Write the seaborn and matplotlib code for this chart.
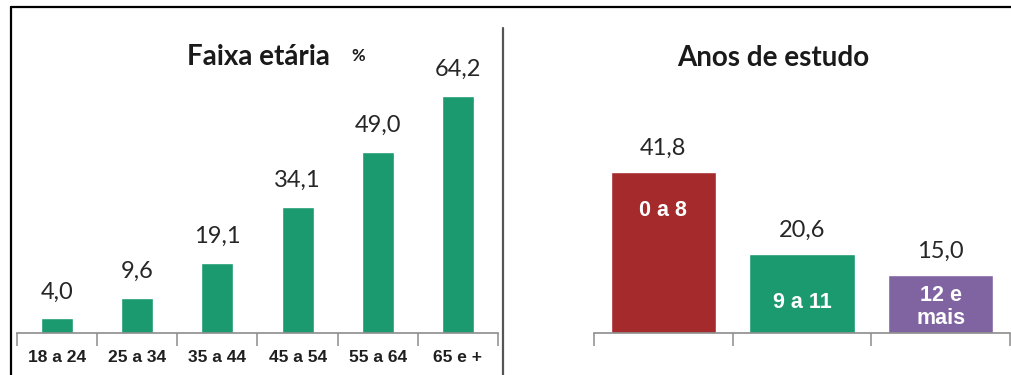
import matplotlib
matplotlib.use("Agg")
import matplotlib.pyplot as plt
import seaborn as sns
import pandas as pd
from matplotlib.lines import Line2D

# ---- data ----
idade_cats = ["18 a 24", "25 a 34", "35 a 44", "45 a 54", "55 a 64", "65 e +"]
idade_vals = [4.0, 9.6, 19.1, 34.1, 49.0, 64.2]
estudo_cats = ["0 a 8", "9 a 11", "12 e\nmais"]
estudo_vals = [41.8, 20.6, 15.0]
estudo_colors = ["#a42a2c", "#1a9a6e", "#8064a2"]
green = "#1a9a6e"

sns.set_theme(style="white")
plt.rcParams["font.family"] = ["Lato", "DejaVu Sans"]

W, H = 1011, 375
fig = plt.figure(figsize=(W / 100, H / 100), dpi=100)

def px_axes(x0, x1, ybot, ytop):
    return fig.add_axes([x0 / W, 1 - ybot / H, (x1 - x0) / W, (ybot - ytop) / H])

def fmt(v):
    return f"{v:.1f}".replace(".", ",")

def style_axis(ax, n):
    for s in ["top", "right", "left"]:
        ax.spines[s].set_visible(False)
    ax.spines["bottom"].set_color("#8c8c8c")
    ax.spines["bottom"].set_linewidth(1.2)
    ax.set_yticks([])
    ax.set_xlim(-0.5, n - 0.5)
    ax.set_xticks([i - 0.5 for i in range(n + 1)], minor=True)
    ax.tick_params(axis="x", which="minor", length=9, width=1.1, color="#8c8c8c",
                   direction="out", bottom=True)
    ax.tick_params(axis="x", which="major", length=0)
    ax.set_xlabel("")
    ax.set_ylabel("")

# ---- left panel ----
ax1 = px_axes(17, 498, 333, 30)
df1 = pd.DataFrame({"cat": idade_cats, "val": idade_vals})
sns.barplot(data=df1, x="cat", y="val", color=green, width=0.4, saturation=1, ax=ax1)
ax1.set_ylim(0, 303 / 3.69)
style_axis(ax1, len(idade_cats))
ax1.set_xticks(range(len(idade_cats)))
ax1.set_xticklabels(idade_cats, fontsize=12.5, fontweight="bold",
                    family=["Liberation Sans"], color="#1f1f1f")
ax1.tick_params(axis="x", which="major", pad=12)
for p, v in zip(ax1.patches, idade_vals):
    ax1.annotate(fmt(v), (p.get_x() + p.get_width() / 2, p.get_height()),
                 xytext=(0, 19), textcoords="offset points", ha="center", va="center",
                 fontsize=17, color="#262626")

# ---- right panel ----
ax2 = px_axes(594, 1010, 333, 30)
df2 = pd.DataFrame({"cat": estudo_cats, "val": estudo_vals})
sns.barplot(data=df2, x="cat", y="val", hue="cat", palette=estudo_colors, width=0.76,
            saturation=1, legend=False, ax=ax2)
ax2.set_ylim(0, 303 / 3.85)
style_axis(ax2, len(estudo_cats))
ax2.set_xticks(range(len(estudo_cats)))
ax2.set_xticklabels([""] * len(estudo_cats))
inner_y = [211, 303, 307]
for i, (p, v, lab) in enumerate(zip(ax2.patches, estudo_vals, estudo_cats)):
    cx = p.get_x() + p.get_width() / 2
    ax2.annotate(fmt(v), (cx, p.get_height()), xytext=(0, 17), textcoords="offset points",
                 ha="center", va="center", fontsize=17, color="#262626")
    ax2.text(cx, (333 - inner_y[i]) / 3.85, lab, ha="center", va="center", fontsize=15.5,
             fontweight="bold", color="white", family=["Liberation Sans"], linespacing=1.1)

# ---- titles ----
fig.text(258 / W, 1 - 57 / H, "Faixa etária", ha="center", va="center", fontsize=20,
         fontweight="bold", color="#1a1a1a")
fig.text(358 / W, 1 - 56 / H, "%", ha="center", va="center", fontsize=12,
         fontweight="bold", color="#1a1a1a")
fig.text(773 / W, 1 - 58 / H, "Anos de estudo", ha="center", va="center", fontsize=20,
         fontweight="bold", color="#1a1a1a")

# ---- frame lines ----
fig.add_artist(Line2D([11 / W, 1], [1 - 7 / H, 1 - 7 / H], color="black", lw=1.6))
fig.add_artist(Line2D([11 / W, 11 / W], [1 - 7 / H, 0], color="black", lw=1.6))
fig.add_artist(Line2D([503 / W, 503 / W], [1 - 28 / H, 0], color="#555555", lw=1.6))

fig.savefig("out.png", dpi=100)
